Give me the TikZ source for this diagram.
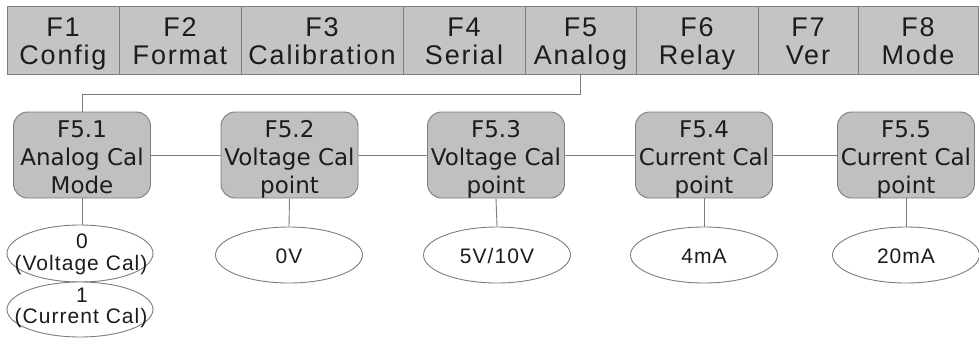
\documentclass[tikz,border=0pt]{standalone}
\usepackage{fontspec}
\setmainfont{Liberation Sans}
\newfontfamily\barfont[LetterSpace=6.7]{Liberation Sans}
\newfontfamily\boxfont{DejaVu Sans}
\newfontfamily\ellfont[LetterSpace=5]{Liberation Sans}
\usetikzlibrary{shapes.geometric}
\definecolor{barfill}{RGB}{196,196,196}
\definecolor{boxfill}{RGB}{192,192,192}
\definecolor{linegray}{RGB}{125,125,125}
\definecolor{txt}{RGB}{28,28,28}
\newcommand\barcell[5]{% name, left, right, line1, line2
  \node[cell, minimum width=#3pt-#2pt] (#1) at ({(#2+#3)/2},40) {};
  \node[bartxt] (#1-a) at ([yshift=4pt]#1.center) {#4};
  \node[bartxt] (#1-b) at ([yshift=-24pt]#1.center) {#5};
}
\newcommand\menuitem[5]{% name, x, line1, line2, line3
  \node[menubox] (#1) at (#2,155) {};
  \node[boxtxt] (#1-a) at ([yshift=18pt]#1.center) {#3};
  \node[boxtxt] (#1-b) at ([yshift=-10pt]#1.center) {#4};
  \node[boxtxt] (#1-c) at ([yshift=-38pt]#1.center) {#5};
}
\begin{document}
\begin{tikzpicture}[x=1pt,y=-1pt,
  cell/.style={draw=linegray, fill=barfill, line width=0.9pt, minimum height=68pt, inner sep=0pt},
  bartxt/.style={anchor=base, inner sep=0pt, text=txt, font=\barfont\fontsize{27}{28}\selectfont},
  menubox/.style={draw=linegray, fill=boxfill, line width=0.9pt, rounded corners=14pt, minimum width=137pt, minimum height=86pt, inner sep=0pt},
  boxtxt/.style={anchor=base, inner sep=0pt, text=txt, font=\boxfont\fontsize{23}{28}\selectfont},
  val/.style={draw=linegray, ellipse, fill=white, line width=0.9pt, minimum width=147pt, minimum height=56pt, inner sep=0pt, text height=16pt, text depth=0pt, text=txt, font=\ellfont\fontsize{21}{24}\selectfont},
  valtxt/.style={anchor=base, inner sep=0pt, text=txt, font=\ellfont\fontsize{21}{24}\selectfont},
  conn/.style={draw=linegray, line width=0.9pt}]
\useasboundingbox (0,0) rectangle (979,338);
% top menu bar
\barcell{c1}{7}{119}{F1}{Config}
\barcell{c2}{119}{241}{F2}{Format}
\barcell{c3}{241}{403}{F3}{Calibration}
\barcell{c4}{403}{525}{F4}{Serial}
\barcell{c5}{525}{636}{F5}{Analog}
\barcell{c6}{636}{758}{F6}{Relay}
\barcell{c7}{758}{858}{F7}{Ver}
\barcell{c8}{858}{978}{F8}{Mode}
% sub menu boxes
\menuitem{b1}{82}{F5.1}{Analog Cal}{Mode}
\menuitem{b2}{289.5}{F5.2}{Voltage Cal}{point}
\menuitem{b3}{496}{F5.3}{Voltage Cal}{point}
\menuitem{b4}{704}{F5.4}{Current Cal}{point}
\menuitem{b5}{906}{F5.5}{Current Cal}{point}
% values
\node[val, minimum width=146pt, minimum height=57pt] (v1a) at (80,253.5) {};
\node[valtxt] (v1a-a) at (82,248) {0};
\node[valtxt] (v1a-b) at (81,270) {(Voltage Cal)};
\node[val, minimum width=146pt, minimum height=55pt] (v1b) at (80,309.5) {};
\node[valtxt] (v1b-a) at (82,302) {1};
\node[valtxt] (v1b-b) at (81,323) {(Current Cal)};
\node[val] (v2) at (289,255) {0V};
\node[val] (v3) at (497,255) {5V/10V};
\node[val] (v4) at (704,255) {4mA};
\node[val] (v5) at (906,255) {20mA};
% connectors
\draw[conn] (c5.south) -- ++(0,20) -| (b1.north);
\draw[conn] (b1.east) -- (b2.west);
\draw[conn] (b2.east) -- (b3.west);
\draw[conn] (b3.east) -- (b4.west);
\draw[conn] (b4.east) -- (b5.west);
\draw[conn] (b1.south) -- (b1.south |- v1a.north);
\draw[conn] (b2.south) -- (v2.north);
\draw[conn] (b3.south) -- (v3.north);
\draw[conn] (b4.south) -- (v4.north);
\draw[conn] (b5.south) -- (v5.north);
\end{tikzpicture}
\end{document}
